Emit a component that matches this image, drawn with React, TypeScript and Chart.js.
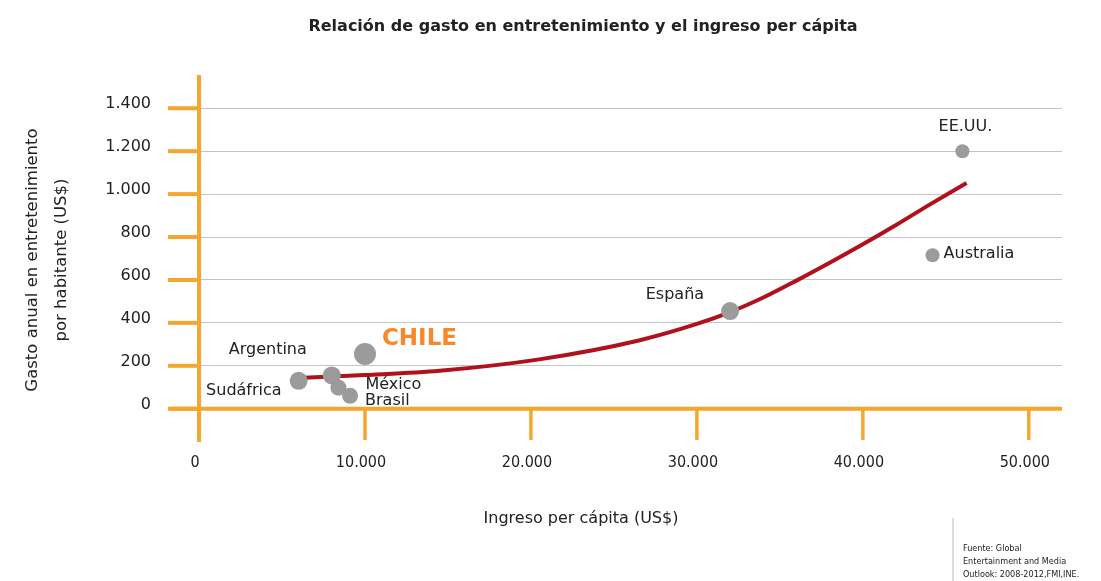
import React, { useEffect, useRef } from "react";
import { Chart, registerables } from "chart.js";

Chart.register(...registerables);

// ---- Data ----
const countries = ["EE.UU.", "Australia", "España", "CHILE", "Argentina", "Sudáfrica", "México", "Brasil"];
const income = [46000, 44200, 32000, 10000, 8000, 6000, 8400, 9100];
const spending = [1200, 715, 455, 255, 155, 130, 98, 60];

const trendIncome = [6000, 10000, 14500, 20500, 26500, 30000, 32000, 34000, 36000, 38000, 40000, 42000, 44000, 46250];
const trendSpending = [143, 157, 177, 230, 318, 395, 450, 518, 597, 680, 766, 856, 950, 1052];

const xTickValues = [0, 10000, 20000, 30000, 40000, 50000];
const xTickLabels = ["0", "10.000", "20.000", "30.000", "40.000", "50.000"];
const yTickValues = [0, 200, 400, 600, 800, 1000, 1200, 1400];
const yTickLabels = ["0", "200", "400", "600", "800", "1.000", "1.200", "1.400"];

const titleText = "Relación de gasto en entretenimiento y el ingreso per cápita";
const yTitleLines = ["Gasto anual en entretenimiento", "por habitante (US$)"];
const xTitleText = "Ingreso per cápita (US$)";
const sourceLines = ["Fuente: Global", "Entertainment and Media", "Outlook: 2008-2012,FMI,INE."];

// ---- Styles ----
const ORANGE = "#F4A62E";
const POINT_GRAY = "#9b9b9b";
const TREND_RED = "#B0111C";
const TEXT = "#222222";
const FONT = "'DejaVu Sans', 'Noto Sans', sans-serif";
const COND_FONT = "'DejaVu Sans Condensed', 'Liberation Sans Narrow', 'Liberation Sans', sans-serif";
const pointRadii = [7, 7, 9, 11, 9, 9, 8, 8];
// label offsets (dx, dy, align) relative to each point
const labelStyle: { dx: number; dy: number; align: CanvasTextAlign }[] = [
  { dx: 3, dy: -24, align: "center" },
  { dx: 11, dy: -1, align: "left" },
  { dx: -26, dy: -16, align: "right" },
  { dx: 17, dy: -15, align: "left" },
  { dx: -25, dy: -26, align: "right" },
  { dx: -17, dy: 10, align: "right" },
  { dx: 27, dy: -3, align: "left" },
  { dx: 15, dy: 5, align: "left" },
];

const decorPlugin = {
  id: "decor",
  beforeDraw(chart: any) {
    const ctx = chart.ctx;
    ctx.save();
    ctx.fillStyle = "#ffffff";
    ctx.fillRect(0, 0, chart.width, chart.height);
    ctx.restore();
  },
  beforeDatasetsDraw(chart: any) {
    const ctx = chart.ctx;
    const xs = chart.scales.x;
    const ys = chart.scales.y;
    const area = chart.chartArea;
    const x0 = xs.getPixelForValue(0);
    const y0 = ys.getPixelForValue(0);
    ctx.save();
    ctx.strokeStyle = ORANGE;
    ctx.lineCap = "butt";
    // y ticks
    ctx.lineWidth = 4;
    yTickValues.forEach((v) => {
      const y = ys.getPixelForValue(v);
      ctx.beginPath();
      ctx.moveTo(area.left - 2, y);
      ctx.lineTo(x0, y);
      ctx.stroke();
    });
    // x ticks
    ctx.lineWidth = 3.5;
    xTickValues.forEach((v) => {
      const x = xs.getPixelForValue(v);
      ctx.beginPath();
      ctx.moveTo(x, y0);
      ctx.lineTo(x, area.bottom - 2);
      ctx.stroke();
    });
    // axes
    ctx.lineWidth = 4;
    ctx.beginPath();
    ctx.moveTo(area.left, y0);
    ctx.lineTo(area.right, y0);
    ctx.stroke();
    ctx.beginPath();
    ctx.moveTo(x0, area.top);
    ctx.lineTo(x0, area.bottom);
    ctx.stroke();
    ctx.restore();
  },
  afterDraw(chart: any) {
    const ctx = chart.ctx;
    ctx.save();
    ctx.fillStyle = TEXT;
    ctx.textBaseline = "middle";
    // title
    ctx.font = `bold 16px ${FONT}`;
    ctx.textAlign = "center";
    ctx.fillText(titleText, 583, 27);
    // x title
    ctx.font = `16px ${FONT}`;
    ctx.fillText(xTitleText, 581, 519);
    // y title
    ctx.save();
    ctx.translate(0, 260);
    ctx.rotate(-Math.PI / 2);
    ctx.font = `16.5px ${FONT}`;
    ctx.fillText(yTitleLines[0], 0, 33);
    ctx.fillText(yTitleLines[1], 0, 62);
    ctx.restore();
    // point labels
    const meta = chart.getDatasetMeta(1);
    countries.forEach((name, i) => {
      const el = meta.data[i];
      const st = labelStyle[i];
      ctx.textAlign = st.align;
      if (name === "CHILE") {
        ctx.font = `bold 23px ${FONT}`;
        ctx.fillStyle = "#F5892B";
      } else {
        ctx.font = `16px ${FONT}`;
        ctx.fillStyle = TEXT;
      }
      ctx.fillText(name, el.x + st.dx, el.y + st.dy);
    });
    // source note
    ctx.strokeStyle = "#dddddd";
    ctx.lineWidth = 2;
    ctx.beginPath();
    ctx.moveTo(953, 518);
    ctx.lineTo(953, 581);
    ctx.stroke();
    ctx.fillStyle = "#222222";
    ctx.textAlign = "left";
    ctx.font = `9px ${COND_FONT}`;
    sourceLines.forEach((l, i) => ctx.fillText(l, 963, 549 + i * 13));
    ctx.restore();
  },
};

export default function App() {
  const canvasRef = useRef<HTMLCanvasElement | null>(null);

  useEffect(() => {
    if (!canvasRef.current) return;
    const chart = new Chart(canvasRef.current, {
      type: "scatter",
      data: {
        datasets: [
          {
            type: "line",
            data: trendIncome.map((x, i) => ({ x, y: trendSpending[i] })),
            borderColor: TREND_RED,
            borderWidth: 4,
            pointRadius: 0,
            showLine: true,
            cubicInterpolationMode: "monotone",
            fill: false,
            order: 2,
          } as any,
          {
            type: "scatter",
            data: income.map((x, i) => ({ x, y: spending[i] })),
            backgroundColor: POINT_GRAY,
            borderWidth: 0,
            pointRadius: pointRadii,
            order: 1,
          } as any,
        ],
      },
      options: {
        responsive: false,
        animation: false,
        devicePixelRatio: 1,
        layout: { padding: { left: 0, top: 75, right: 39, bottom: 0 } },
        plugins: { legend: { display: false }, tooltip: { enabled: false }, title: { display: false } },
        scales: {
          x: {
            type: "linear",
            min: -1750,
            max: 52000,
            afterFit: (s: any) => {
              s.height = 139;
            },
            afterBuildTicks: (s: any) => {
              s.ticks = xTickValues.map((v) => ({ value: v }));
            },
            grid: { display: false, drawTicks: false },
            border: { display: false },
            ticks: {
              padding: 11,
              labelOffset: -4,
              color: TEXT,
              font: { family: COND_FONT, size: 16 },
              maxRotation: 0,
              autoSkip: false,
              callback: (v: any) => {
                const i = xTickValues.indexOf(Number(v));
                return i >= 0 ? xTickLabels[i] : "";
              },
            },
          },
          y: {
            type: "linear",
            min: -155,
            max: 1555,
            afterFit: (s: any) => {
              s.width = 170;
            },
            afterBuildTicks: (s: any) => {
              s.ticks = yTickValues.map((v) => ({ value: v }));
            },
            grid: { color: "#c4c4c4", lineWidth: 1, drawTicks: false },
            border: { display: false },
            ticks: {
              padding: 19,
              labelOffset: -4,
              color: TEXT,
              font: { family: FONT, size: 16 },
              autoSkip: false,
              callback: (v: any) => {
                const i = yTickValues.indexOf(Number(v));
                return i >= 0 ? yTickLabels[i] : "";
              },
            },
          },
        },
      },
      plugins: [decorPlugin],
    });
    return () => chart.destroy();
  }, []);

  return (
    <div style={{ position: "fixed", left: 0, top: 0, width: 1101, height: 581, background: "#fff" }}>
      <canvas ref={canvasRef} width={1101} height={581} style={{ display: "block" }} />
    </div>
  );
}
